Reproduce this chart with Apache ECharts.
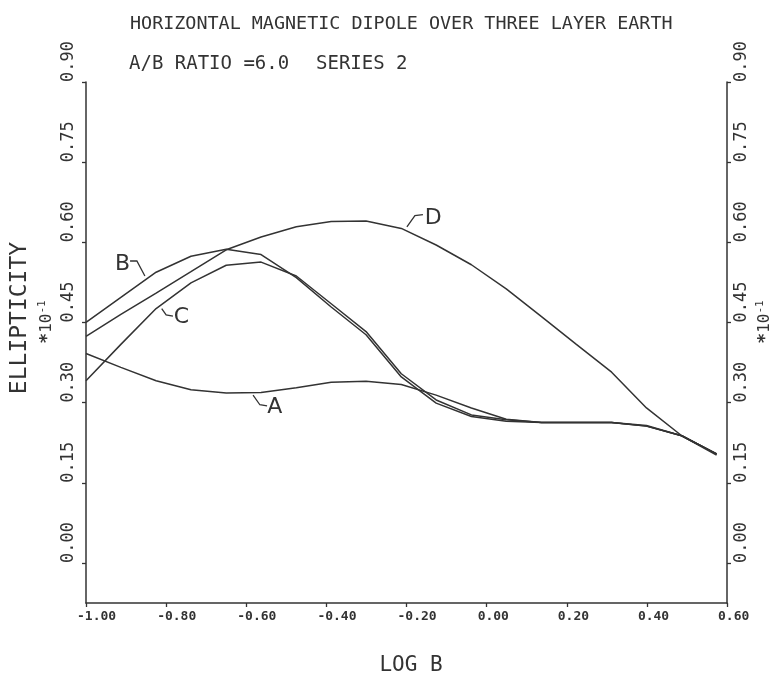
<!DOCTYPE html>
<html><head><meta charset="utf-8">
<script src="https://cdn.jsdelivr.net/npm/echarts@6/dist/echarts.min.js"></script>
<style>html,body{margin:0;padding:0;background:#fff}#c{width:774px;height:681px}</style>
</head><body><div id="c"></div>
<script>
// ---- data ----
const logB = [-1.000, -0.913, -0.825, -0.738, -0.650, -0.563, -0.475, -0.388, -0.301, -0.213, -0.126, -0.038, 0.049, 0.137, 0.224, 0.312, 0.399, 0.487, 0.574];
const curveA = [0.392, 0.366, 0.341, 0.324, 0.318, 0.319, 0.328, 0.338, 0.340, 0.334, 0.314, 0.290, 0.269, 0.263, 0.263, 0.263, 0.257, 0.238, 0.204];
const curveB = [0.450, 0.497, 0.544, 0.574, 0.587, 0.577, 0.534, 0.479, 0.427, 0.348, 0.299, 0.274, 0.265, 0.263, 0.263, 0.263, 0.256, 0.238, 0.204];
const curveC = [0.341, 0.409, 0.476, 0.524, 0.557, 0.563, 0.537, 0.485, 0.433, 0.354, 0.305, 0.277, 0.268, 0.263, 0.263, 0.263, 0.256, 0.238, 0.204];
const curveD = [0.424, 0.465, 0.505, 0.545, 0.586, 0.610, 0.629, 0.639, 0.640, 0.626, 0.595, 0.558, 0.513, 0.461, 0.409, 0.357, 0.290, 0.238, 0.202];
const curveNames = ['A', 'B', 'C', 'D'];
const yTickValues = [0.00, 0.15, 0.30, 0.45, 0.60, 0.75, 0.90];
const titleText = 'HORIZONTAL MAGNETIC DIPOLE OVER THREE LAYER EARTH';
const subtitleLeft = 'A/B RATIO =6.0';
const subtitleRight = 'SERIES 2';
const xAxisName = 'LOG B';
const yAxisName = 'ELLIPTICITY';
const multStar = '*';
const multBase = '10';
const multExp = '-1';

// ---- styling ----
const ink = '#333333';
const mono = "'DejaVu Sans Mono', monospace";
const sans = "'DejaVu Sans', sans-serif";

function pairs(ys) { return logB.map((x, i) => [x, ys[i]]); }
const curves = [curveA, curveB, curveC, curveD];

const chart = echarts.init(document.getElementById('c'), null, { renderer: 'canvas' });

function yAxisDef(pos, vAlign, margin) {
  return {
    type: 'value', position: pos, min: -0.075, max: 0.9,
    axisLine: { show: true, onZero: false, lineStyle: { color: ink, width: 1.5 } },
    axisTick: { show: true, customValues: yTickValues, length: 4, lineStyle: { color: ink, width: 1.3 } },
    axisLabel: {
      show: true, customValues: yTickValues, rotate: 90, align: 'left', verticalAlign: vAlign,
      margin: margin, formatter: v => v.toFixed(2),
      fontFamily: mono, fontSize: 17, color: ink
    },
    splitLine: { show: false }
  };
}

const option = {
  animation: false,
  backgroundColor: '#fff',
  title: [
    { text: titleText, left: 130, top: 15, padding: 0, textStyle: { fontFamily: mono, fontSize: 18.4, fontWeight: 'normal', color: ink } },
    { text: subtitleLeft, left: 129, top: 55, padding: 0, textStyle: { fontFamily: mono, fontSize: 19, fontWeight: 'normal', color: ink } },
    { text: subtitleRight, left: 316, top: 55, padding: 0, textStyle: { fontFamily: mono, fontSize: 19, fontWeight: 'normal', color: ink } }
  ],
  grid: { left: 86, right: 47, top: 82, bottom: 67, containLabel: false },
  xAxis: {
    type: 'value', min: -1, max: 0.6, interval: 0.2,
    axisLine: { show: true, onZero: false, lineStyle: { color: ink, width: 1.5 } },
    axisTick: { show: true, length: 4, lineStyle: { color: ink, width: 1.3 } },
    axisLabel: {
      margin: 7,
      formatter: v => '{a|' + v.toFixed(2) + '}',
      rich: { a: { width: 18, align: 'left', fontFamily: mono, fontSize: 13, fontWeight: 'bold', color: ink } }
    },
    splitLine: { show: false },
    name: xAxisName, nameLocation: 'middle', nameGap: 52,
    nameTextStyle: { fontFamily: mono, fontSize: 21, color: ink, padding: [0, 0, 0, 9] }
  },
  yAxis: [yAxisDef('left', 'bottom', 9), yAxisDef('right', 'top', 6)],
  series: curves.map((c, i) => ({
    name: curveNames[i], type: 'line', data: pairs(c), yAxisIndex: 0,
    showSymbol: false, symbol: 'none', smooth: false,
    lineStyle: { color: ink, width: 1.5 }
  }))
};
chart.setOption(option);

// ---- curve annotations (anchored in data coordinates) ----
const annot = [
  { t: 'B', at: [-0.909, 0.558], hook: [[-0.890, 0.565], [-0.873, 0.565], [-0.853, 0.537]] },
  { t: 'C', at: [-0.762, 0.460], hook: [[-0.811, 0.476], [-0.800, 0.464], [-0.783, 0.462]] },
  { t: 'A', at: [-0.529, 0.291], hook: [[-0.583, 0.314], [-0.566, 0.296], [-0.548, 0.294]] },
  { t: 'D', at: [-0.133, 0.645], hook: [[-0.199, 0.629], [-0.179, 0.650], [-0.159, 0.652]] }
];
const px = p => chart.convertToPixel({ gridIndex: 0 }, p);
const graphics = [];
annot.forEach(a => {
  const c = px(a.at);
  graphics.push({ type: 'text', x: c[0], y: c[1], style: { text: a.t, align: 'center', verticalAlign: 'middle', font: "22px " + sans, fill: ink } });
  graphics.push({ type: 'polyline', shape: { points: a.hook.map(px) }, style: { stroke: ink, lineWidth: 1.3, fill: null } });
});
graphics.push({ type: 'text', x: 20, y: 318, rotation: Math.PI / 2, style: { text: yAxisName, align: 'center', verticalAlign: 'middle', font: "23px " + mono, fill: ink } });
const multRich = {
  s: { fontFamily: mono, fontSize: 18, fontWeight: 'bold', fill: ink },
  b: { fontFamily: mono, fontSize: 16, fill: ink },
  e: { fontFamily: mono, fontSize: 11, fill: ink, padding: [0, 0, 9, 0] }
};
const multText = '{s|' + multStar + '}{b|' + multBase + '}{e|' + multExp + '}';
[[47, 322], [765, 322]].forEach(p => {
  graphics.push({ type: 'text', x: p[0], y: p[1], rotation: Math.PI / 2, style: { text: multText, rich: multRich, align: 'center', verticalAlign: 'middle', fill: ink } });
});
chart.setOption({ graphic: graphics });
</script>
</body></html>
